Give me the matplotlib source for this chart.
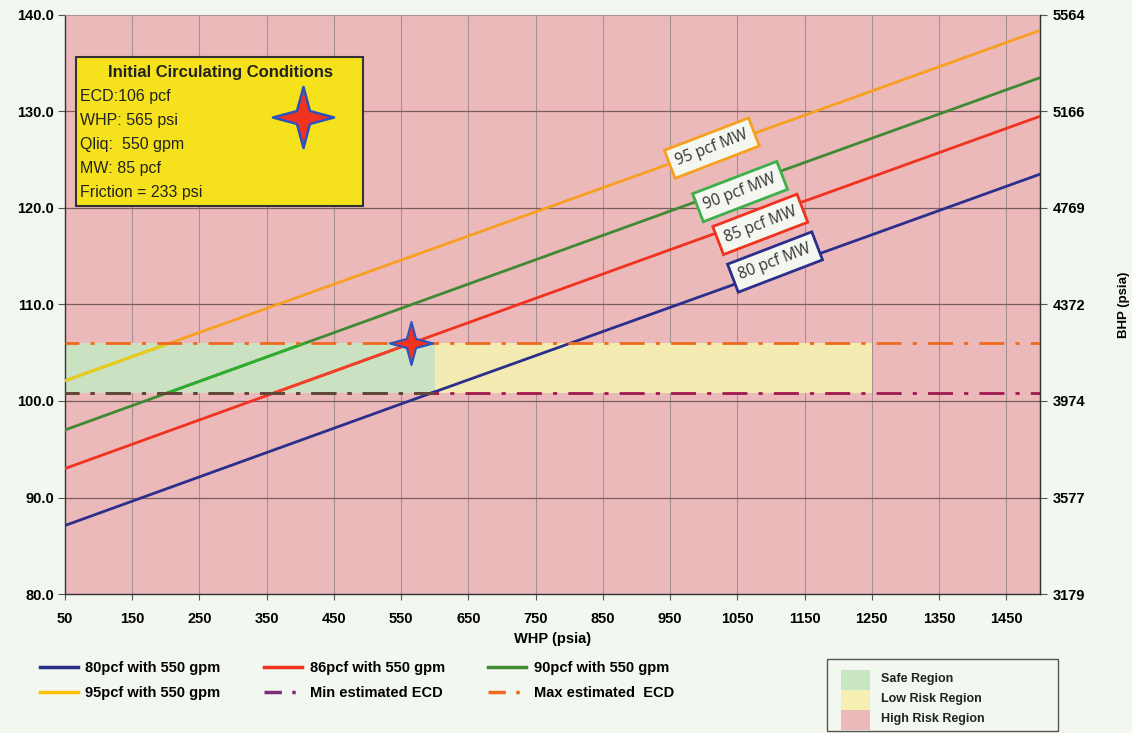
import matplotlib
matplotlib.use("Agg")
import matplotlib.pyplot as plt
from matplotlib.path import Path
from matplotlib.patches import Rectangle
from matplotlib.lines import Line2D
import numpy as np

# ---- data ----
whp = [50, 550, 1050, 1500]
ecd_80 = [87.1, 99.7, 112.2, 123.5]
ecd_86 = [93.0, 105.6, 118.2, 129.5]
ecd_90 = [97.0, 109.6, 122.2, 133.5]
ecd_95 = [102.1, 114.6, 127.1, 138.4]
min_ecd = 100.8
max_ecd = 106.0
safe_whp = [50, 600]
low_risk_whp = [600, 1250]
init_whp = 565
init_ecd = 106
x_ticks = list(range(50, 1500, 100))
y_ticks = [80.0, 90.0, 100.0, 110.0, 120.0, 130.0, 140.0]
bhp_labels = ["3179", "3577", "3974", "4372", "4769", "5166", "5564"]
series_labels = ["80pcf with 550 gpm", "86pcf with 550 gpm", "90pcf with 550 gpm",
                 "95pcf with 550 gpm", "Min estimated ECD", "Max estimated  ECD"]
mw_labels = ["80 pcf MW", "85 pcf MW", "90 pcf MW", "95 pcf MW"]
region_labels = ["Safe Region", "Low Risk Region", "High Risk Region"]
info_lines = ["ECD:106 pcf", "WHP: 565 psi", "Qliq:  550 gpm", "MW: 85 pcf", "Friction = 233 psi"]

C_NAVY = "#2B2F8C"
C_RED = "#F0321E"
C_GREEN = "#3F8A33"
C_ORANGE = "#F7A020"
C_MIN = "#A0174F"
C_MAX = "#EE6A1E"
C_PINK = "#ECB9BB"
C_SAFE = "#C9E6C3"
C_LOW = "#F5F0B2"
C_BG = "#F2F7EF"

BOLD = ["Liberation Sans Narrow", "Liberation Sans", "DejaVu Sans"]
W, H = 1132, 733

fig = plt.figure(figsize=(11.32, 7.33), dpi=100, facecolor=C_BG)
ax = fig.add_axes([0.0574, 0.1896, 0.8613, 0.790])
ax.set_facecolor(C_PINK)
ax.set_xlim(50, 1500)
ax.set_ylim(80, 140)

# grid
for xv in x_ticks[1:]:
    ax.axvline(xv, color="#A88F8F", lw=0.8, zorder=1)
for yv in y_ticks[1:-1]:
    ax.axhline(yv, color="#7A5C5C", lw=0.9, zorder=1)

# risk regions
safe_rect = Rectangle((safe_whp[0], min_ecd), safe_whp[1] - safe_whp[0], max_ecd - min_ecd,
                      facecolor=C_SAFE, edgecolor="none", alpha=0.93, zorder=2)
low_rect = Rectangle((low_risk_whp[0], min_ecd), low_risk_whp[1] - low_risk_whp[0], max_ecd - min_ecd,
                     facecolor=C_LOW, edgecolor="none", alpha=0.93, zorder=2)
ax.add_patch(safe_rect)
ax.add_patch(low_rect)

# mud weight lines
series = [(ecd_80, C_NAVY, C_NAVY), (ecd_86, C_RED, "#F2402A"),
          (ecd_90, C_GREEN, "#2FAE2F"), (ecd_95, C_ORANGE, "#E3CF17")]
for vals, col, safe_col in series:
    ax.plot(whp, vals, color=col, lw=2, zorder=3)
    # brighter shade where the line crosses the safe region
    ln, = ax.plot(whp, vals, color=safe_col, lw=2, zorder=3.5)
    ln.set_clip_path(safe_rect)

# ECD limits
dashdot = (4, (9, 4, 1.5, 4))
ax.axhline(min_ecd, color=C_MIN, lw=2, ls=dashdot, zorder=5)
mn = ax.axhline(min_ecd, color="#5E4A36", lw=2, ls=dashdot, zorder=5.1)
mn.set_clip_path(Rectangle((safe_whp[0], min_ecd - 1), safe_whp[1] - safe_whp[0], 2,
                           transform=ax.transData))
ax.axhline(max_ecd, color=C_MAX, lw=2, ls=dashdot, zorder=5)

# four-point star marker
r_in = 0.3
star_verts = []
for k in range(8):
    ang = np.pi / 2 + k * np.pi / 4
    r = 1.0 if k % 2 == 0 else r_in
    star_verts.append((r * np.cos(ang), r * np.sin(ang)))
star_verts.append(star_verts[0])
star = Path(star_verts, [Path.MOVETO] + [Path.LINETO] * 7 + [Path.CLOSEPOLY])

ax.plot([init_whp], [init_ecd], marker=star, markersize=31, color=C_RED,
        markeredgecolor="#2A52BE", markeredgewidth=1.5, zorder=7, ls="none")

# axes styling
ax.spines["top"].set_color("#B09090")
ax.spines["top"].set_linewidth(0.8)
for s in ["left", "bottom", "right"]:
    ax.spines[s].set_color("#333333")
    ax.spines[s].set_linewidth(1.0)
ax.set_xticks(x_ticks)
ax.set_xticklabels([str(v) for v in x_ticks], fontfamily=BOLD, fontweight="bold", fontsize=10.5)
ax.set_yticks(y_ticks)
ax.set_yticklabels([f"{v:.1f}" for v in y_ticks], fontfamily=BOLD, fontweight="bold", fontsize=10.5)
ax.tick_params(axis="x", length=4, pad=9, color="#555555")
ax.tick_params(axis="y", length=5, pad=3, color="#555555")
ax.set_xlabel("WHP (psia)", fontfamily=BOLD, fontweight="bold", fontsize=10.5, labelpad=4)

ax2 = ax.twinx()
ax2.set_ylim(80, 140)
ax2.set_yticks(y_ticks)
ax2.set_yticklabels(bhp_labels, fontfamily=BOLD, fontweight="bold", fontsize=10.5)
ax2.tick_params(axis="y", length=5, pad=4, color="#555555")
for s in ["top", "left", "bottom"]:
    ax2.spines[s].set_visible(False)
ax2.spines["right"].set_color("#333333")
ax2.set_ylabel("BHP (psia)", fontfamily=BOLD, fontweight="bold", fontsize=9.5, labelpad=24)

# rotated mud weight labels
label_pos = [(1106, 114.4), (1084, 118.3), (1054, 121.7), (1012, 126.2)]
label_edge = [C_NAVY, C_RED, "#3CB04A", C_ORANGE]
for (lx, ly), txt, ec in zip(label_pos, mw_labels, label_edge):
    ax2.text(lx, ly, txt, rotation=21, rotation_mode="anchor", ha="center", va="center",
             fontsize=11.2, fontfamily=["Open Sans", "DejaVu Sans"], color="#333333", zorder=8,
             bbox=dict(boxstyle="square,pad=0.45", facecolor="#F4F6F0", edgecolor=ec, lw=2))

# initial conditions box
bx0, by0, bx1, by1 = 76, 57, 363, 206
fig.patches.append(Rectangle((bx0 / W, 1 - by1 / H), (bx1 - bx0) / W, (by1 - by0) / H,
                             transform=fig.transFigure, facecolor="#F6E21C",
                             edgecolor="#333333", lw=1.5, zorder=9))
fig.text(220 / W, 1 - 73 / H, "Initial Circulating Conditions", ha="center", va="center",
         fontsize=12, fontweight="bold", fontfamily=BOLD, color="#222222", zorder=10)
for i, line in enumerate(info_lines):
    fig.text(80 / W, 1 - (97 + i * 24) / H, line, ha="left", va="center",
             fontsize=11.5, fontfamily=["Liberation Sans", "DejaVu Sans"], color="#222222", zorder=10)
star_ax = fig.add_axes([268 / W, 1 - 152 / H, 70 / W, 70 / H])
star_ax.set_zorder(11)
star_ax.set_xlim(-1, 1)
star_ax.set_ylim(-1, 1)
star_ax.axis("off")
star_ax.plot([0], [0], marker=star, markersize=44, color=C_RED,
             markeredgecolor="#2A52BE", markeredgewidth=1.8, ls="none")

# series legend
handles = [
    Line2D([], [], color=C_NAVY, lw=2.5),
    Line2D([], [], color=C_RED, lw=2.5),
    Line2D([], [], color=C_GREEN, lw=2.5),
    Line2D([], [], color="#FFC000", lw=2.5),
    Line2D([], [], color="#7B2C7E", lw=2.5, ls=(0, (5, 3, 1, 3))),
    Line2D([], [], color=C_MAX, lw=2.5, ls=(0, (5, 3, 1, 3))),
]
order = [0, 3, 1, 4, 2, 5]
fig.legend([handles[i] for i in order], [series_labels[i] for i in order],
           ncol=3, loc="upper left", bbox_to_anchor=(27 / W, 1 - 648 / H),
           frameon=False, handlelength=2.6, handletextpad=0.5, columnspacing=3.0,
           labelspacing=0.75, prop={"family": BOLD, "weight": "bold", "size": 10.5})

# region key
fig.patches.append(Rectangle((827 / W, 1 - 731 / H), (1058 - 827) / W, (731 - 659) / H,
                             transform=fig.transFigure, facecolor=C_BG,
                             edgecolor="#555555", lw=1.0, zorder=9))
key_cols = [C_SAFE, C_LOW, C_PINK]
for i, (lab, col) in enumerate(zip(region_labels, key_cols)):
    y_top = 670 + i * 20
    fig.patches.append(Rectangle((841 / W, 1 - (y_top + 20) / H), 29 / W, 20 / H,
                                 transform=fig.transFigure, facecolor=col,
                                 edgecolor="none", zorder=10))
    fig.text(881 / W, 1 - (y_top + 9) / H, lab, ha="left", va="center", fontsize=9,
             fontweight="bold", fontfamily=BOLD, color="#222222", zorder=11)

fig.savefig("out.png", dpi=100, facecolor=C_BG)
